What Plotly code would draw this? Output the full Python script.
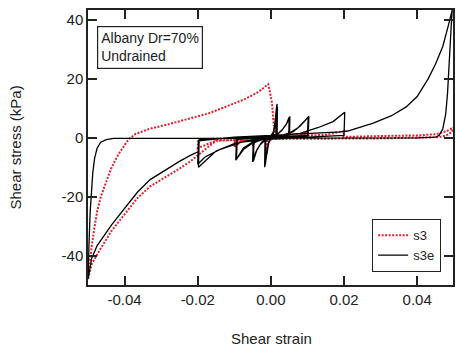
import plotly.graph_objects as go

# ---- s3e (black solid) : cyclic loops, final loading, unloading, reloading ----
s3e_cyc_strain = [0, 0.0006, 0.0011, 0.0015, 0.0014, 0.0002, -0.0006, -0.0011, -0.0015, -0.0014,
                  -0.0002, 0.0006, 0.0011, 0.0016, 0.0015, 0.0002, -0.0006, -0.0011, -0.0016, -0.0015,
                  -0.0002, 0.0007, 0.0012, 0.0017, 0.0016, 0.0002, -0.0007, -0.0012, -0.0017, -0.0016,
                  -0.0002, 0.0008, 0.0013, 0.0018, 0.0017,
                  -0.001, -0.0025, -0.0038, -0.0048, -0.0046, -0.001, 0.0015, 0.003, 0.0042, 0.005,
                  0.0049, 0.001, -0.0015, -0.003, -0.0042, -0.005, -0.0048, -0.001, 0.0018, 0.0033,
                  0.0044, 0.0052, 0.0051,
                  0.002, -0.002, -0.005, -0.0075, -0.0094, -0.0092, -0.004, 0.002, 0.005, 0.0075,
                  0.0102, 0.0100, 0.004, -0.002, -0.005, -0.0075, -0.0096, -0.0094, -0.003, 0.003,
                  0.006, 0.008, 0.0104, 0.0102,
                  0.004, -0.004, -0.010, -0.015, -0.0198, -0.0196, -0.010, 0.0, 0.008, 0.013,
                  0.017, 0.0202, 0.0200, 0.008, 0.0, -0.008, -0.014, -0.018, -0.020, -0.0198,
                  -0.010, 0.0, 0.008, 0.014, 0.019]
s3e_cyc_stress = [0, 1, 4, 10, 0.5, 0, -1.5, -4.5, -9, -0.5,
                  0.2, 1.5, 5, 11, 0.8, 0, -1.8, -5, -9.5, -0.3,
                  0.3, 2, 5.5, 11.5, 0.5, 0, -2, -5.5, -10, -0.6,
                  0.2, 2.2, 5, 10.5, 0.6,
                  -0.2, -1.5, -4, -8, -0.3, 0.2, 0.8, 2.5, 4.5, 7,
                  0.6, 0, -0.8, -2.5, -5, -8.2, -0.5, 0.3, 1.2, 3,
                  5, 7.2, 0.8,
                  0.2, -0.3, -1.5, -3.5, -7.2, -0.5, 0.2, 0.5, 1.5, 3.5,
                  7, 0.6, 0.2, -0.5, -1.8, -4, -7.6, -0.3, 0.4, 0.8,
                  2, 4, 7.3, 0.8,
                  0.3, -0.5, -2, -4.5, -10, -0.6, 0, 0.6, 1.5, 3.5,
                  5.5, 8.7, 0.8, 0.2, -0.4, -1.5, -4, -6.5, -9, -1,
                  0.2, 0.8, 1.2, 1.6, 2.0]
s3e_load_strain = [0.021, 0.024, 0.028, 0.033, 0.037, 0.040, 0.043, 0.045, 0.047, 0.0485, 0.0496]
s3e_load_stress = [2.3, 3.5, 5, 7.5, 10.5, 14, 20, 25, 31, 38, 43.5]
s3e_unload_strain = [0.0494, 0.049, 0.0487, 0.0483, 0.0478, 0.047, 0.046, 0.045, 0.040, 0.0,
                     -0.040, -0.043, -0.045, -0.0465, -0.0475, -0.0482, -0.0487, -0.049, -0.0494,
                     -0.0497, -0.0500]
s3e_unload_stress = [40, 30, 22, 15, 8, 3, 0.8, 0.2, 0, -0.1,
                     -0.1, -0.2, -0.6, -1.5, -3.5, -7, -12, -17.4, -25,
                     -35, -48]
s3e_reload_strain = [-0.049, -0.0475, -0.0435, -0.040, -0.0365, -0.033, -0.029, -0.025, -0.022, -0.0195]
s3e_reload_stress = [-41, -36.6, -29.5, -23.8, -18.5, -14.2, -11, -8, -6, -4.5]

# ---- s3 (red dotted) ----
s3_cyc_strain = [0, 0.0008, 0.0012, 0.0011, -0.0008, -0.0012, -0.0011, 0.0008, 0.0013, 0.0012,
                 -0.004, -0.005, -0.0048, 0.004, 0.005, 0.0048, -0.004, -0.005, -0.0048, 0.004,
                 0.005, 0.0048,
                 -0.008, -0.010, -0.0098, 0.008, 0.010, 0.0098, -0.008, -0.010, -0.0098, 0.008,
                 0.010, 0.0098,
                 -0.015, -0.020, -0.0198, 0.015, 0.020, 0.0198]
s3_cyc_stress = [0, 1, 4, 0, -1, -4, 0, 1, 4.5, 0.3,
                 -0.5, -2.5, 0, 0.6, 2, 0.2, -0.6, -2.8, -0.2, 0.5,
                 2.2, 0,
                 -0.8, -3, -0.2, 0.8, 2.2, 0.3, -1, -3.2, -0.3, 0.6,
                 2, 0.2,
                 -1, -3.5, -0.5, 1, 2.3, 0.3]
s3_load_strain = [0.03, 0.04, 0.045, 0.048, 0.050]
s3_load_stress = [0.6, 0.8, 1.2, 2.2, 3.6]
s3_back_strain = [0.0495, 0.048, 0.046, 0.03, 0.0, -0.015, -0.0198]
s3_back_stress = [2.0, 0.8, 0.2, -0.2, -0.4, -1.0, -6]
s3_neg_strain = [-0.022, -0.025, -0.029, -0.033, -0.0365, -0.040, -0.0435, -0.047, -0.049, -0.050]
s3_neg_stress = [-8, -10.5, -13.5, -16.5, -20.5, -25.8, -31.5, -38.5, -43, -48]
s3_rel_strain = [-0.0497, -0.049, -0.0483, -0.0475, -0.0465, -0.0456, -0.0445, -0.0437, -0.0425,
                 -0.0416, -0.040, -0.0388, -0.037, -0.0333, -0.028, -0.0225, -0.017, -0.0116,
                 -0.007, -0.0035, -0.0007, 0.0003, 0.0008]
s3_rel_stress = [-44, -37, -31, -25, -20, -17, -13, -10.5, -7.5,
                 -5.5, -2.5, -0.4, 1.3, 3, 4.6, 6.4, 8.3, 10.9,
                 13.2, 15.5, 18.2, 12, 4]

x_tickvals = [-0.04, -0.02, 0.0, 0.02, 0.04]
x_ticktext = ["-0.04", "-0.02", "0.00", "0.02", "0.04"]
y_tickvals = [-40, -20, 0, 20, 40]
y_ticktext = ["-40", "-20", "0", "20", "40"]

s3e_x = s3e_cyc_strain + s3e_load_strain + s3e_unload_strain + s3e_reload_strain
s3e_y = s3e_cyc_stress + s3e_load_stress + s3e_unload_stress + s3e_reload_stress
s3_x = s3_cyc_strain + s3_load_strain + s3_back_strain + s3_neg_strain + s3_rel_strain
s3_y = s3_cyc_stress + s3_load_stress + s3_back_stress + s3_neg_stress + s3_rel_stress

FONT = "Liberation Sans, Arial, sans-serif"
RED = "#e0202c"

fig = go.Figure()
fig.add_trace(go.Scatter(x=s3_x, y=s3_y, mode="lines", name="s3",
                         line=dict(color=RED, width=2, dash="2px,1.5px")))
fig.add_trace(go.Scatter(x=s3e_x, y=s3e_y, mode="lines", name="s3e",
                         line=dict(color="black", width=1.3)))

axis_common = dict(showgrid=False, zeroline=False, showline=True, linecolor="#222",
                   linewidth=1.5, mirror="ticks", ticks="inside", ticklen=9, tickwidth=1.5,
                   tickcolor="#222", tickfont=dict(family=FONT, size=15, color="#222"))
fig.update_xaxes(range=[-0.05, 0.0498], tickvals=x_tickvals, ticktext=x_ticktext, **axis_common)
fig.update_yaxes(range=[-50, 43.4], tickvals=y_tickvals, ticktext=y_ticktext, **axis_common)

fig.update_layout(
    width=456, height=347,
    margin=dict(l=88, r=1, t=10, b=62),
    plot_bgcolor="white", paper_bgcolor="white",
    font=dict(family=FONT, color="#222"),
    legend=dict(x=0.967, y=0.047, xanchor="right", yanchor="bottom",
                bordercolor="#222", borderwidth=1.2, bgcolor="white",
                font=dict(family=FONT, size=13, color="#222"),
                tracegroupgap=0, itemwidth=30),
    annotations=[
        dict(text="Albany Dr=70%<br>Undrained", xref="paper", yref="paper",
             x=0.0245, y=0.943, xanchor="left", yanchor="top", showarrow=False,
             align="left", bordercolor="#222", borderwidth=1.2, borderpad=3,
             bgcolor="white", font=dict(family=FONT, size=14, color="#222")),
        dict(text="Shear strain", xref="paper", yref="paper", x=0.504, y=-0.193,
             xanchor="center", yanchor="middle", showarrow=False,
             font=dict(family=FONT, size=15, color="#222")),
        dict(text="Shear stress (kPa)", xref="paper", yref="paper", x=-0.2, y=0.5,
             xanchor="center", yanchor="middle", showarrow=False, textangle=-90,
             font=dict(family=FONT, size=15, color="#222")),
    ],
)

fig.write_html("out.html")
